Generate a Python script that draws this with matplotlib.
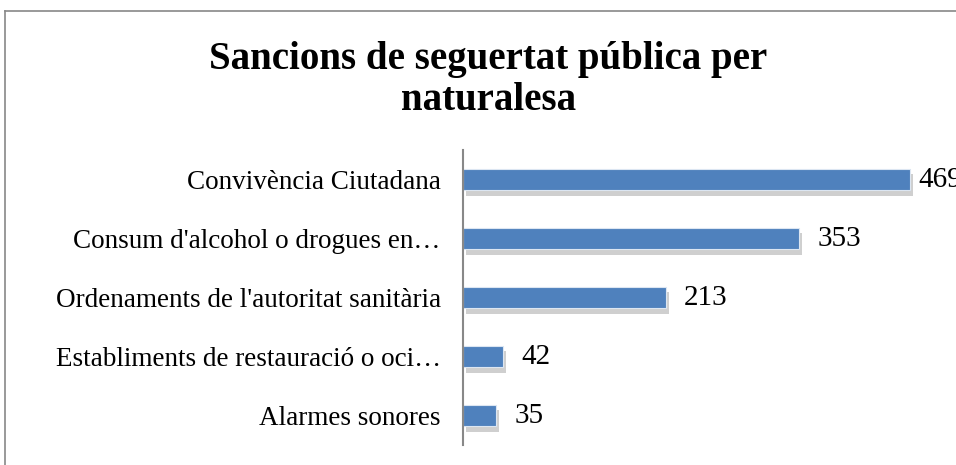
import matplotlib.pyplot as plt
import matplotlib.patheffects as pe
from matplotlib.lines import Line2D

categories = ["Convivència Ciutadana",
              "Consum d'alcohol o drogues en…",
              "Ordenaments de l'autoritat sanitària",
              "Establiments de restauració o oci…",
              "Alarmes sonores"]
values = [469, 353, 213, 42, 35]

plt.rcParams['font.family'] = ['Liberation Serif', 'DejaVu Serif']

fig = plt.figure(figsize=(9.56, 4.65), dpi=100)
ax = fig.add_axes([463/956, 20/465, 1 - 463/956, 295/465])

y = list(range(len(categories)))[::-1]
bars = ax.barh(y, values, height=0.37, color='#4F81BD', edgecolor='#dce6f2', linewidth=0.8,
               path_effects=[pe.SimplePatchShadow(offset=(2, -4), shadow_rgbFace='#b0b0b0', alpha=0.6),
                             pe.Normal()])

for yi, v in zip(y, values):
    off = 8 if v == max(values) else 18
    ax.annotate(str(v), (v, yi), xytext=(off, 0), textcoords='offset pixels',
                va='center', ha='left', fontsize=21, annotation_clip=False)

ax.set_xlim(0, (956 - 463) / 0.953)
ax.set_ylim(-0.5, len(categories) - 0.5)
ax.set_yticks(y)
ax.set_yticklabels(categories, fontsize=19.5)
ax.tick_params(axis='y', length=0, pad=16)
ax.set_xticks([])
for s in ['top', 'right', 'bottom']:
    ax.spines[s].set_visible(False)
ax.spines['left'].set_color('#888888')
ax.spines['left'].set_linewidth(1.5)

fig.text(0.511, 0.828, "Sancions de seguertat pública per\nnaturalesa", ha='center', va='center',
         fontsize=28, fontweight='bold', linespacing=1.13)

# outer chart border (cut off at right and bottom)
fig.add_artist(Line2D([5/956, 1], [1 - 11/465, 1 - 11/465], transform=fig.transFigure, color='#888888', lw=1.2))
fig.add_artist(Line2D([5/956, 5/956], [0, 1 - 11/465], transform=fig.transFigure, color='#888888', lw=1.2))

plt.savefig('out.png', dpi=100)
